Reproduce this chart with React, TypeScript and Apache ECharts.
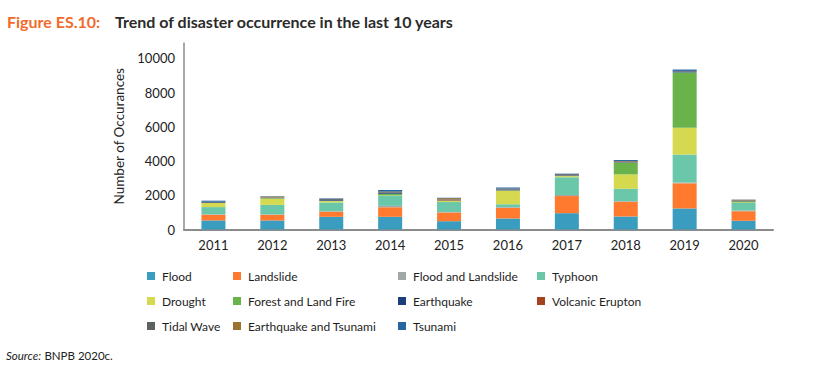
import React, { useEffect, useRef } from "react";
import * as echarts from "echarts";

const years = ["2011", "2012", "2013", "2014", "2015", "2016", "2017", "2018", "2019", "2020"];

const flood = [530, 530, 740, 740, 485, 645, 955, 760, 1230, 510];
const landslide = [330, 330, 300, 560, 510, 620, 1000, 860, 1470, 560];
const floodAndLandslide = [30, 20, 30, 80, 30, 40, 60, 40, 50, 40];
const typhoon = [420, 560, 510, 590, 580, 170, 1040, 720, 1630, 440];
const drought = [240, 360, 80, 20, 70, 800, 60, 840, 1560, 30];
const forestFire = [10, 30, 20, 100, 10, 10, 10, 700, 3240, 70];
const earthquake = [40, 10, 40, 50, 20, 50, 30, 20, 60, 20];
const volcanic = [5, 10, 10, 10, 40, 10, 10, 40, 10, 20];
const tidalWave = [20, 30, 60, 80, 30, 50, 70, 20, 20, 30];
const eqTsunami = [0, 50, 0, 0, 60, 0, 0, 0, 0, 20];
const tsunami = [60, 20, 30, 80, 20, 60, 30, 60, 80, 10];

const seriesNames = [
  "Flood", "Landslide", "Flood and Landslide", "Typhoon", "Drought", "Forest and Land Fire",
  "Earthquake", "Volcanic Erupton", "Tidal Wave", "Earthquake and Tsunami", "Tsunami",
];
const seriesData = [flood, landslide, floodAndLandslide, typhoon, drought, forestFire, earthquake, volcanic, tidalWave, eqTsunami, tsunami];
const seriesColors = [
  "#3A9DBF", "#FF7A2F", "#A2A8A7", "#6BC7AA", "#D4D94F", "#6AB24A",
  "#1C3F7C", "#A6431F", "#5B6261", "#9A7330", "#2566A1",
];

const legendColumns = [
  ["Flood", "Drought", "Tidal Wave"],
  ["Landslide", "Forest and Land Fire", "Earthquake and Tsunami"],
  ["Flood and Landslide", "Earthquake", "Tsunami"],
  ["Typhoon", "Volcanic Erupton"],
];
const legendLefts = [147, 233, 398, 537];

const FONT = "Lato";

export default function App() {
  const ref = useRef<HTMLDivElement>(null);
  useEffect(() => {
    if (!ref.current) return;
    const chart = echarts.init(ref.current, undefined, { renderer: "svg" });
    chart.setOption({
      animation: false,
      textStyle: { fontFamily: FONT },
      color: seriesColors,
      graphic: [
        {
          type: "text",
          left: 7,
          top: 13,
          style: { text: "Figure ES.10:", fill: "#F26A2B", font: `bold 16px ${FONT}` },
        },
        {
          type: "text",
          left: 115,
          top: 13,
          style: { text: "Trend of disaster occurrence in the last 10 years", fill: "#2B2B2B", font: `bold 16px ${FONT}` },
        },
        {
          type: "text",
          left: 6,
          top: 349,
          style: {
            text: "{i|Source:} {n|BNPB 2020c.}",
            rich: {
              i: { fontStyle: "italic", fontSize: 11.5, fill: "#222", fontFamily: FONT },
              n: { fontSize: 11.5, fill: "#222", fontFamily: FONT },
            },
          },
        },
      ],
      legend: legendColumns.map((col, i) => ({
        data: col,
        orient: "vertical",
        left: legendLefts[i],
        top: 269,
        padding: 0,
        itemWidth: 8,
        itemHeight: 8,
        itemGap: 11,
        icon: "rect",
        selectedMode: false,
        textStyle: { fontSize: 12, color: "#1E1E1E", lineHeight: 14, fontFamily: FONT, padding: [0, 0, 0, 2] },
      })),
      grid: { left: 184, top: 43, width: 589, height: 186.5 },
      xAxis: {
        type: "category",
        data: years,
        axisLine: { lineStyle: { color: "#8C8C8C", width: 2 } },
        axisTick: { show: false },
        axisLabel: { fontSize: 13, color: "#222", margin: 9 },
      },
      yAxis: {
        type: "value",
        min: 0,
        max: 10900,
        interval: 2000,
        name: "Number of Occurances",
        nameLocation: "middle",
        nameGap: 50,
        nameTextStyle: { fontSize: 13.5, color: "#222" },
        axisLine: { show: true, lineStyle: { color: "#8C8C8C", width: 1.5 } },
        axisTick: { show: false },
        splitLine: { show: false },
        axisLabel: {
          fontSize: 13,
          color: "#222",
          margin: 9,
          formatter: (v: number) => (v % 2000 === 0 ? String(v) : ""),
        },
      },
      series: seriesNames.map((name, i) => ({
        name,
        type: "bar",
        stack: "total",
        barWidth: 24,
        data: seriesData[i],
        itemStyle: { color: seriesColors[i] },
      })),
    });
    return () => chart.dispose();
  }, []);
  return (
    <div
      ref={ref}
      style={{ position: "absolute", left: 0, top: 0, width: 829, height: 372, background: "#fff" }}
    />
  );
}
